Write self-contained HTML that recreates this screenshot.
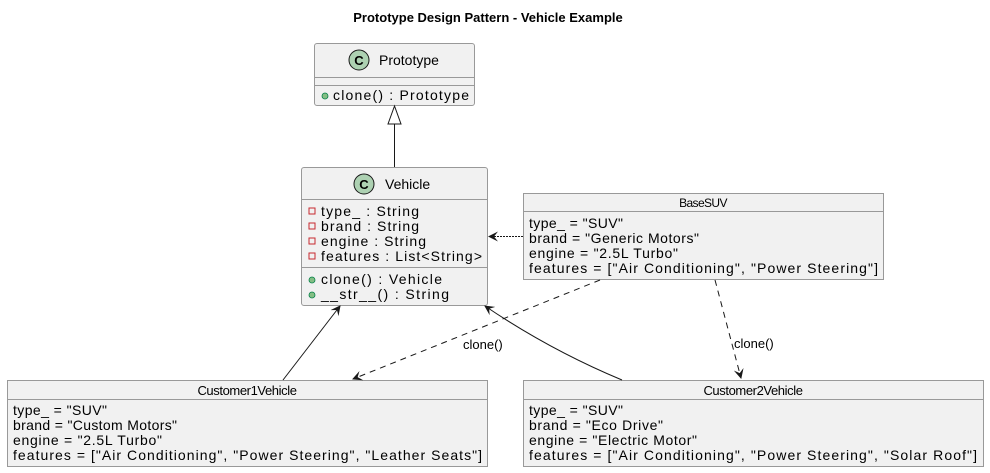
<!DOCTYPE html>
<html><head><meta charset="utf-8"><style>
html,body{margin:0;padding:0;background:#fff;}
svg{display:block;}
text{font-family:"Liberation Sans",Arial,sans-serif;fill:#000;}
</style></head><body>
<svg width="990" height="473" viewBox="0 0 990 473" xmlns="http://www.w3.org/2000/svg">
<defs>
<marker id="ah" viewBox="0 0 10 10" refX="9" refY="5" markerWidth="10" markerHeight="10" orient="auto" markerUnits="userSpaceOnUse">
<path d="M0,0 L10,5 L0,10 L4,5 Z" fill="#181818"/>
</marker>
</defs>
<text x="488" y="22" font-size="13" font-weight="bold" text-anchor="middle">Prototype Design Pattern - Vehicle Example</text>

<!-- Prototype -->
<rect x="314.5" y="43.5" width="160" height="62" rx="2.5" fill="#f1f1f1" stroke="#999" stroke-width="1"/>
<line x1="314.5" y1="77.5" x2="474.5" y2="77.5" stroke="#999"/>
<line x1="314.5" y1="85.5" x2="474.5" y2="85.5" stroke="#999"/>
<circle cx="359" cy="60" r="10" fill="#add1b2" stroke="#181818"/>
<text x="359" y="65" font-size="13" font-weight="bold" text-anchor="middle">C</text>
<text x="379" y="65" font-size="14">Prototype</text>
<circle cx="325" cy="96" r="3" fill="#84be84" stroke="#038048" stroke-width="0.8"/>
<text x="333" y="100" font-size="14" textLength="136">clone() : Prototype</text>

<!-- Vehicle -->
<rect x="301.5" y="167.5" width="186" height="138" rx="2.5" fill="#f1f1f1" stroke="#999"/>
<line x1="301.5" y1="199.5" x2="487.5" y2="199.5" stroke="#999"/>
<line x1="301.5" y1="267.5" x2="487.5" y2="267.5" stroke="#999"/>
<circle cx="364" cy="184" r="10" fill="#add1b2" stroke="#181818"/>
<text x="364" y="189" font-size="13" font-weight="bold" text-anchor="middle">C</text>
<text x="385" y="189" font-size="14">Vehicle</text>
<g fill="none" stroke="#c82930" stroke-width="1">
<rect x="309" y="208" width="6" height="6"/>
<rect x="309" y="223" width="6" height="6"/>
<rect x="309" y="238" width="6" height="6"/>
<rect x="309" y="253" width="6" height="6"/>
</g>
<text x="321" y="216" font-size="14" textLength="98">type_ : String</text>
<text x="321" y="231" font-size="14" textLength="98">brand : String</text>
<text x="321" y="246" font-size="14" textLength="105">engine : String</text>
<text x="321" y="261" font-size="14" textLength="161">features : List&lt;String&gt;</text>
<circle cx="312" cy="280" r="3" fill="#84be84" stroke="#038048" stroke-width="0.8"/>
<circle cx="312" cy="295" r="3" fill="#84be84" stroke="#038048" stroke-width="0.8"/>
<text x="321" y="284" font-size="14" textLength="121">clone() : Vehicle</text>
<text x="321" y="299" font-size="14" textLength="128">__str__() : String</text>

<!-- BaseSUV -->
<rect x="523.5" y="193.5" width="360" height="86" fill="#f1f1f1" stroke="#999"/>
<line x1="523.5" y1="211.5" x2="883.5" y2="211.5" stroke="#999"/>
<text x="703" y="207" font-size="12" text-anchor="middle" letter-spacing="-0.6">BaseSUV</text>
<text x="529" y="228" font-size="14" textLength="94">type_ = "SUV"</text>
<text x="529" y="243" font-size="14" textLength="170">brand = "Generic Motors"</text>
<text x="529" y="258" font-size="14" textLength="149">engine = "2.5L Turbo"</text>
<text x="529" y="273" font-size="14" textLength="349">features = ["Air Conditioning", "Power Steering"]</text>

<!-- Customer1Vehicle -->
<rect x="7.5" y="380.5" width="480" height="86" fill="#f1f1f1" stroke="#999"/>
<line x1="7.5" y1="399.5" x2="487.5" y2="399.5" stroke="#999"/>
<text x="247" y="395" font-size="13" text-anchor="middle" letter-spacing="-0.4">Customer1Vehicle</text>
<text x="13" y="415" font-size="14" textLength="94">type_ = "SUV"</text>
<text x="13" y="430" font-size="14" textLength="164">brand = "Custom Motors"</text>
<text x="13" y="445" font-size="14" textLength="149">engine = "2.5L Turbo"</text>
<text x="13" y="460" font-size="14" textLength="469">features = ["Air Conditioning", "Power Steering", "Leather Seats"]</text>

<!-- Customer2Vehicle -->
<rect x="523.5" y="380.5" width="460" height="86" fill="#f1f1f1" stroke="#999"/>
<line x1="523.5" y1="399.5" x2="983.5" y2="399.5" stroke="#999"/>
<text x="753" y="395" font-size="13" text-anchor="middle" letter-spacing="-0.4">Customer2Vehicle</text>
<text x="529" y="415" font-size="14" textLength="94">type_ = "SUV"</text>
<text x="529" y="430" font-size="14" textLength="134">brand = "Eco Drive"</text>
<text x="529" y="445" font-size="14" textLength="168">engine = "Electric Motor"</text>
<text x="529" y="460" font-size="14" textLength="448">features = ["Air Conditioning", "Power Steering", "Solar Roof"]</text>

<!-- edges -->
<line x1="394.5" y1="167" x2="394.5" y2="124" stroke="#181818"/>
<path d="M394.5,106 L388,124 L401,124 Z" fill="#fff" stroke="#181818"/>

<line x1="523" y1="236.5" x2="489" y2="236.5" stroke="#181818" stroke-dasharray="2,1" marker-end="url(#ah)"/>

<line x1="600" y1="280" x2="353" y2="379" stroke="#181818" stroke-dasharray="6,5" marker-end="url(#ah)"/>
<text x="463" y="349" font-size="13">clone()</text>

<line x1="715" y1="280" x2="741" y2="378" stroke="#181818" stroke-dasharray="6,5" marker-end="url(#ah)"/>
<text x="734" y="348" font-size="13">clone()</text>

<line x1="283" y1="380" x2="340" y2="306" stroke="#181818" marker-end="url(#ah)"/>
<path d="M622,380 Q550,350 485,306" fill="none" stroke="#181818" marker-end="url(#ah)"/>
</svg>
</body></html>
